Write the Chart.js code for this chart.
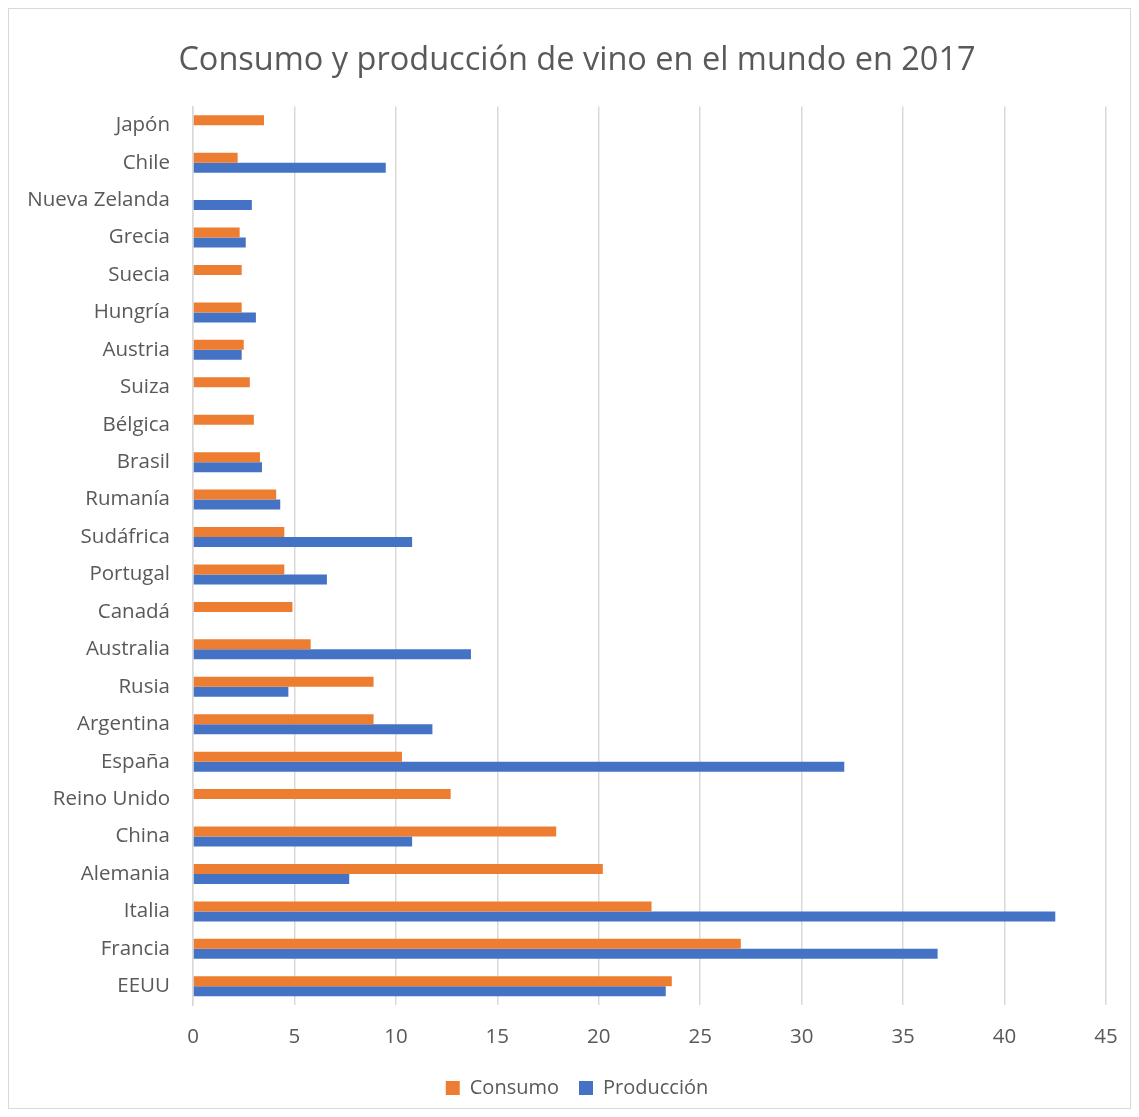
<!DOCTYPE html>
<html>
<head>
<meta charset="utf-8">
<script src="https://cdn.jsdelivr.net/npm/chart.js@4/dist/chart.umd.min.js"></script>
<style>
  html, body { margin: 0; padding: 0; background: #fff; }
  #wrap { width: 1139px; height: 1117px; position: relative; }
</style>
</head>
<body>
<div id="wrap"><canvas id="chart"></canvas></div>
<script>
const paises = ['Japón', 'Chile', 'Nueva Zelanda', 'Grecia', 'Suecia', 'Hungría', 'Austria', 'Suiza',
  'Bélgica', 'Brasil', 'Rumanía', 'Sudáfrica', 'Portugal', 'Canadá', 'Australia', 'Rusia',
  'Argentina', 'España', 'Reino Unido', 'China', 'Alemania', 'Italia', 'Francia', 'EEUU'];

const consumo = [3.5, 2.2, null, 2.3, 2.4, 2.4, 2.5, 2.8, 3.0, 3.3, 4.1, 4.5, 4.5, 4.9, 5.8, 8.9,
  8.9, 10.3, 12.7, 17.9, 20.2, 22.6, 27.0, 23.6];

const produccion = [null, 9.5, 2.9, 2.6, null, 3.1, 2.4, null, null, 3.4, 4.3, 10.8, 6.6, null, 13.7, 4.7,
  11.8, 32.1, null, 10.8, 7.7, 42.5, 36.7, 23.3];

const FONT = 'Open Sans';
const GRIS = '#595959';

// marco gris alrededor del gráfico
const marco = {
  id: 'marco',
  beforeDraw(chart) {
    const ctx = chart.ctx;
    ctx.save();
    ctx.fillStyle = '#fff';
    ctx.fillRect(0, 0, chart.width, chart.height);
    ctx.strokeStyle = '#d9d9d9';
    ctx.lineWidth = 1;
    ctx.strokeRect(8.5, 8.5, 1122, 1100);
    ctx.restore();
  }
};

const ctx = document.getElementById('chart').getContext('2d');
const chart = new Chart(ctx, {
  type: 'bar',
  data: {
    labels: paises,
    datasets: [
      { label: 'Consumo', data: consumo, backgroundColor: '#ED7D31' },
      { label: 'Producción', data: produccion, backgroundColor: '#4472C4' }
    ]
  },
  options: {
    indexAxis: 'y',
    responsive: true,
    maintainAspectRatio: false,
    animation: false,
    categoryPercentage: 0.535,
    barPercentage: 1,
    layout: { padding: { left: 48, right: 33, top: 0, bottom: 9 } },
    plugins: {
      title: {
        display: true,
        text: 'Consumo y producción de vino en el mundo en 2017',
        color: GRIS,
        font: { family: FONT, size: 32.5, weight: 'normal', lineHeight: 1.2 },
        padding: { top: 41.5, bottom: 26 }
      },
      legend: {
        position: 'bottom',
        labels: {
          color: GRIS,
          font: { family: FONT, size: 20 },
          boxWidth: 14,
          boxHeight: 14,
          padding: 20
        }
      },
      tooltip: { enabled: false }
    },
    scales: {
      x: {
        min: 0,
        max: 45,
        ticks: { stepSize: 5, color: GRIS, font: { family: FONT, size: 20.5 }, padding: 20 },
        grid: { color: '#d9d9d9', lineWidth: 1.5, drawTicks: false },
        border: { display: false },
        afterFit(scale) { scale.height = 53; }
      },
      y: {
        ticks: { color: GRIS, font: { family: FONT, size: 20.5 }, padding: 23, autoSkip: false },
        grid: { display: false, drawTicks: false },
        border: { color: '#d9d9d9', width: 1.5 },
        afterFit(scale) {
          scale.width = 145;
          // las etiquetas largas salen a la izquierda del eje, no recortar
          scale._computeLabelArea = () => null;
        }
      }
    }
  },
  plugins: [marco]
});
</script>
</body>
</html>
